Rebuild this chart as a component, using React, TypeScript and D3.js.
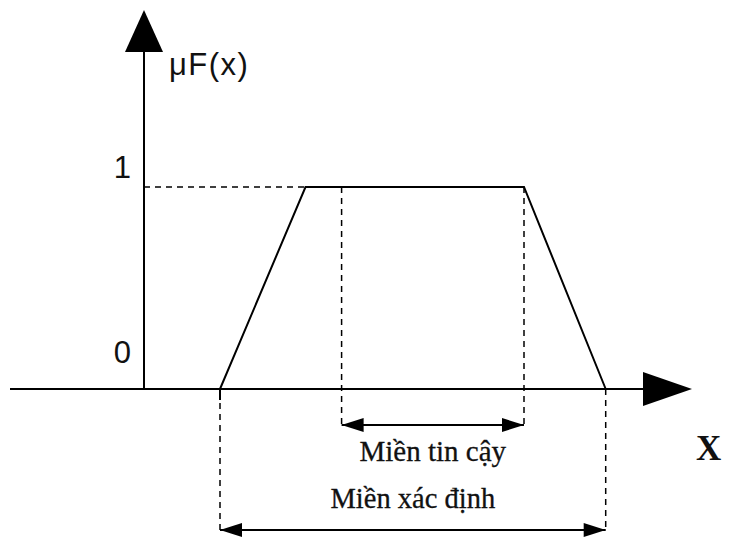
import React from "react";
import * as d3 from "d3";

// Membership function (trapezoid) key points
const trapX = [2, 4.25, 10, 12.15];
const trapY = [0, 1, 1, 0];
const coreRange = [5.2, 10];
const supportRange = [2, 12.15];
const yTickLabels = ["0", "1"];
const yTickValues = [0, 1];
const labels = {
  yAxis: "μF(x)",
  xAxis: "X",
  core: "Miền tin cậy",
  support: "Miền xác định",
};

const W = 729;
const H = 540;

export default function App() {
  const x = d3.scaleLinear().domain([0, 1]).range([144, 182]);
  const y = d3.scaleLinear().domain([0, 1]).range([389, 187]);
  const line = d3
    .line<number>()
    .x((_, i) => x(trapX[i]))
    .y((d) => y(d));
  const trapPath = line(trapY) || "";

  const x0 = x(0);
  const y0 = y(0);
  const y1 = y(1);
  const dash = "6,5";
  const coreY = 425;
  const suppY = 530;
  const sL = x(supportRange[0]);
  const sR = x(supportRange[1]);
  const cL = x(coreRange[0]);
  const cR = x(coreRange[1]);
  const serif = "Liberation Serif, Times New Roman, serif";
  const sans = "Liberation Sans, Arial, sans-serif";

  return (
    <svg
      width={W}
      height={H}
      style={{ position: "absolute", left: 0, top: 0, background: "#fff" }}
    >
      {/* x axis */}
      <line x1={10} y1={y0} x2={645} y2={y0} stroke="#000" strokeWidth={2} />
      <path d={`M643,${y0 - 17} L692,${y0} L643,${y0 + 17} Z`} fill="#000" />
      {/* y axis */}
      <line x1={x0} y1={y0} x2={x0} y2={50} stroke="#000" strokeWidth={2} />
      <path d={`M${x0 - 19},52 L${x0},10 L${x0 + 19},52 Z`} fill="#000" />

      {/* dashed level-1 line */}
      <line x1={x0} y1={y1} x2={x(trapX[1])} y2={y1} stroke="#000" strokeWidth={1.5} strokeDasharray={dash} />

      {/* trapezoid */}
      <path d={trapPath} fill="none" stroke="#000" strokeWidth={2} />
      <line x1={sL} y1={y0} x2={sL} y2={y0 + 11} stroke="#000" strokeWidth={2} />

      {/* core dashed verticals */}
      <line x1={cL} y1={y1} x2={cL} y2={coreY} stroke="#000" strokeWidth={1.5} strokeDasharray={dash} />
      <line x1={cR} y1={y1} x2={cR} y2={coreY} stroke="#000" strokeWidth={1.5} strokeDasharray={dash} />
      {/* support dashed verticals */}
      <line x1={sL} y1={y0 + 14} x2={sL} y2={suppY} stroke="#000" strokeWidth={1.5} strokeDasharray={dash} />
      <line x1={sR} y1={y0} x2={sR} y2={suppY} stroke="#000" strokeWidth={1.5} strokeDasharray={dash} />

      {/* core double arrow */}
      <line x1={cL} y1={coreY} x2={cR} y2={coreY} stroke="#000" strokeWidth={2} />
      <path d={`M${cL},${coreY} L${cL + 22},${coreY - 7} L${cL + 22},${coreY + 7} Z`} fill="#000" />
      <path d={`M${cR},${coreY} L${cR - 22},${coreY - 7} L${cR - 22},${coreY + 7} Z`} fill="#000" />
      {/* support double arrow */}
      <line x1={sL} y1={suppY} x2={sR} y2={suppY} stroke="#000" strokeWidth={2} />
      <path d={`M${sL},${suppY} L${sL + 22},${suppY - 7} L${sL + 22},${suppY + 7} Z`} fill="#000" />
      <path d={`M${sR},${suppY} L${sR - 22},${suppY - 7} L${sR - 22},${suppY + 7} Z`} fill="#000" />

      {/* tick labels */}
      {yTickValues.map((v, i) => (
        <text
          key={v}
          x={131}
          y={v === 0 ? 363 : 178}
          textAnchor="end"
          fontFamily={sans}
          fontSize={31}
          fill="#111"
        >
          {yTickLabels[i]}
        </text>
      ))}
      <text x={169} y={75} fontFamily={sans} fontSize={31} letterSpacing={1.5} fill="#111">
        {labels.yAxis}
      </text>
      <text x={696} y={460} fontFamily={serif} fontSize={35} fontWeight="bold" fill="#111">
        {labels.xAxis}
      </text>
      <text x={(cL + cR) / 2} y={461} textAnchor="middle" fontFamily={serif} fontSize={29} fill="#111" stroke="#111" strokeWidth={0.3}>
        {labels.core}
      </text>
      <text x={(sL + sR) / 2} y={508} textAnchor="middle" fontFamily={serif} fontSize={28.5} fill="#111" stroke="#111" strokeWidth={0.3}>
        {labels.support}
      </text>
    </svg>
  );
}
